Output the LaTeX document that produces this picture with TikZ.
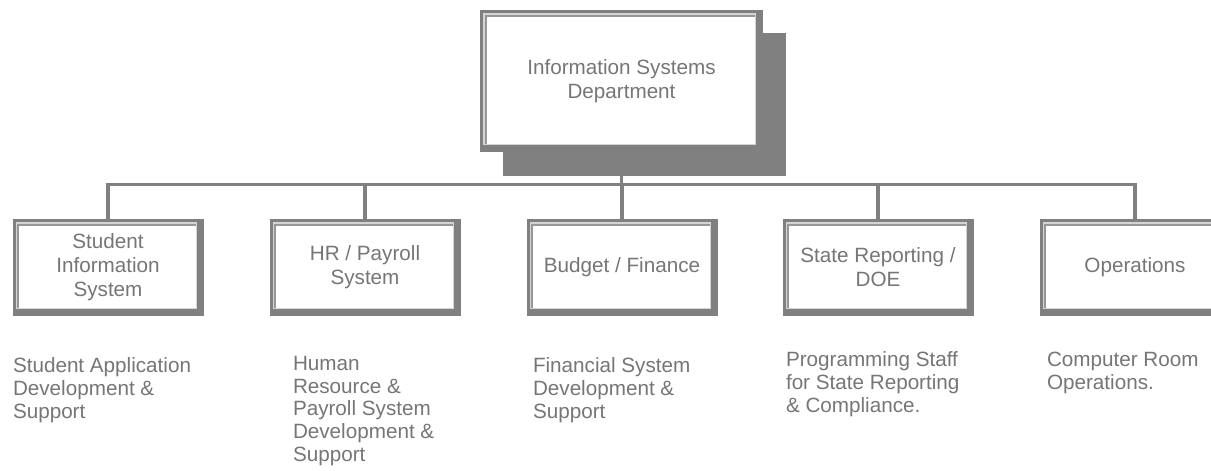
\documentclass[tikz,border=0pt]{standalone}
\usepackage{fontspec}
\setmainfont{Liberation Sans}
\usetikzlibrary{calc,backgrounds}
\definecolor{boxdark}{RGB}{128,128,128}
\definecolor{boxlight}{RGB}{212,212,212}
\definecolor{boxmid}{RGB}{150,150,150}
\definecolor{txt}{RGB}{118,118,118}
\begin{document}
\begin{tikzpicture}[x=0.75pt,y=-0.75pt,
  orgbox/.style={inner sep=0pt,outer sep=0pt,minimum width=143.25pt,minimum height=72.75pt,align=center,text=txt,font={\fontsize{15.5pt}{18pt}\selectfont}},
  topbox/.style={orgbox,minimum width=212.25pt,minimum height=106.5pt},
  desc/.style={inner sep=0pt,outer sep=0pt,anchor=north west,align=left,text=txt,font={\fontsize{15.5pt}{17.1pt}\selectfont}},
  conn/.style={draw=boxdark,line width=2.5pt}]
\useasboundingbox (0,0) rectangle (1211,471);
\node[topbox] (top) at (621.5,81) {Information Systems\\Department};
\node[orgbox] (sis) at (108,267.5) {Student\\Information\\System};
\node[orgbox] (hr) at (365,267.5) {HR / Payroll\\System};
\node[orgbox] (bud) at (622,267.5) {Budget / Finance};
\node[orgbox] (sr) at (878,267.5) {State Reporting /\\DOE};
\node[orgbox] (ops) at (1135,267.5) {Operations};
\node[desc] (d1) at (13,358) {Student Application\\Development \&\\Support};
\node[desc] (d2) at (293,356) {Human\\Resource \&\\Payroll System\\Development \&\\Support};
\node[desc] (d3) at (533,358) {Financial System\\Development \&\\Support};
\node[desc] (d4) at (786,352) {Programming Staff\\for State Reporting\\\& Compliance.};
\node[desc] (d5) at (1047,352) {Computer Room\\Operations.};
\coordinate (bus) at (621.5,184.5);
\foreach \n in {sis,hr,bud,sr,ops}
  \draw[conn] (top.south) -- (top.south|-bus) -| (\n.north);
\begin{pgfonlayer}{background}
\begin{scope}
\clip (0,0) rectangle (1211,471);
\fill[white] (0,0) rectangle (1211,471);
\fill[boxdark] ($(top.north west)+(23,23)$) rectangle ($(top.south east)+(23,24)$);
\foreach \n in {top,sis,hr,bud,sr,ops}{
  \fill[boxdark] (\n.north west) rectangle (\n.south east);
  \fill[boxlight] ($(\n.north west)+(3,3)$) rectangle ($(\n.south east)+(-7,-7)$);
  \fill[boxmid] ($(\n.north west)+(4.5,4.5)$) rectangle ($(\n.south east)+(-8,-8)$);
  \fill[white] ($(\n.north west)+(6.5,6.5)$) rectangle ($(\n.south east)+(-8,-8)$);
}
\end{scope}
\end{pgfonlayer}
\end{tikzpicture}
\end{document}
